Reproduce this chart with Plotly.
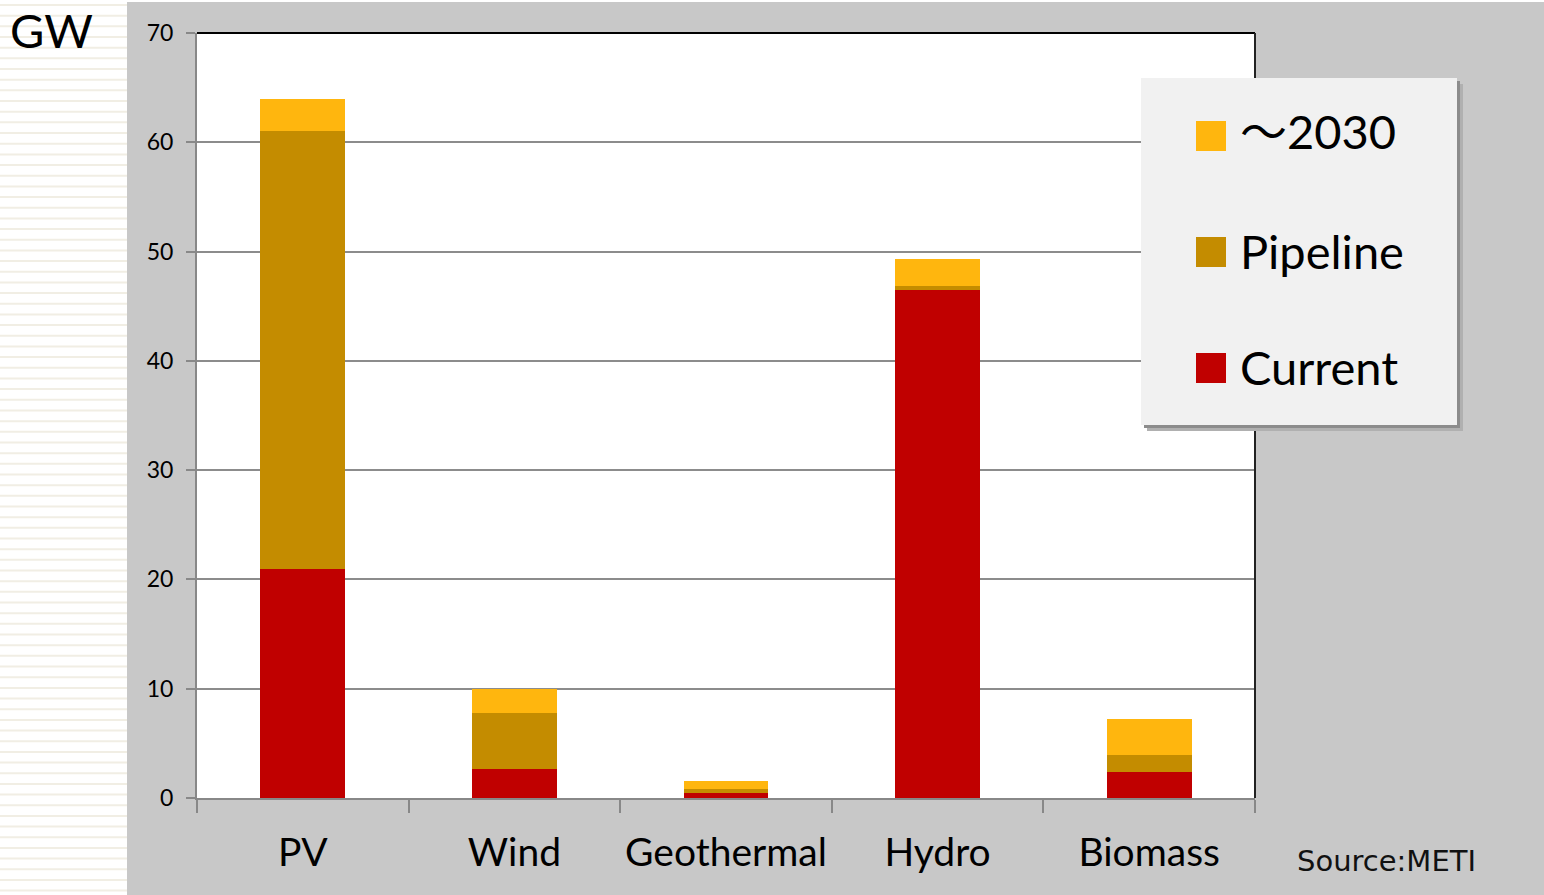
import plotly.graph_objects as go

categories = ["PV", "Wind", "Geothermal", "Hydro", "Biomass"]
current = [21.0, 2.65, 0.43, 46.5, 2.4]
pipeline = [40.0, 5.15, 0.42, 0.37, 1.5]
to2030 = [3.0, 2.2, 0.68, 2.43, 3.3]
series_names = ["Current", "Pipeline", "～2030"]
series_colors = ["#c00000", "#c48c00", "#ffb60e"]
y_ticks = [0, 10, 20, 30, 40, 50, 60, 70]

W, H = 1544, 895
L, R, T, B = 197, 1255, 33, 798


def px(x):
    return (x - L) / (R - L)


def py(y):
    return (B - y) / (B - T)


fig = go.Figure()
for name, vals, col in zip(series_names, [current, pipeline, to2030], series_colors):
    fig.add_trace(go.Bar(x=categories, y=vals, name=name, marker=dict(color=col, line=dict(width=0)),
                         showlegend=False))

shapes = []
# gray background region
shapes.append(dict(type="rect", xref="paper", yref="paper", x0=px(127), x1=px(W), y0=py(H), y1=py(2),
                   fillcolor="#c8c8c8", line=dict(width=0), layer="below"))
# white plot area
shapes.append(dict(type="rect", xref="paper", yref="paper", x0=0, x1=1, y0=0, y1=1,
                   fillcolor="#ffffff", line=dict(width=0), layer="below"))
# striped left strip
yy = 4.0
while yy < H:
    shapes.append(dict(type="rect", xref="paper", yref="paper", x0=px(0), x1=px(127), y0=py(yy + 2), y1=py(yy),
                       fillcolor="#f1eee4", line=dict(width=0), layer="below"))
    yy += 10.67
# top and right black border
shapes.append(dict(type="line", xref="paper", yref="paper", x0=0, x1=1, y0=1, y1=1,
                   line=dict(color="#000000", width=2), layer="above"))
shapes.append(dict(type="line", xref="paper", yref="paper", x0=1, x1=1, y0=0, y1=1,
                   line=dict(color="#222222", width=2), layer="above"))
# legend box with shadow
lx0, lx1, ly0, ly1 = 1141, 1457, 78, 425
shapes.append(dict(type="rect", xref="paper", yref="paper", x0=px(lx0 + 6), x1=px(lx1 + 6), y0=py(ly1 + 6), y1=py(ly0 + 6),
                   fillcolor="#b0b0b0", line=dict(width=0), layer="above"))
shapes.append(dict(type="rect", xref="paper", yref="paper", x0=px(lx0 + 3), x1=px(lx1 + 3), y0=py(ly1 + 3), y1=py(ly0 + 3),
                   fillcolor="#8c8c8c", line=dict(width=0), layer="above"))
shapes.append(dict(type="rect", xref="paper", yref="paper", x0=px(lx0), x1=px(lx1), y0=py(ly1), y1=py(ly0),
                   fillcolor="#f1f1f1", line=dict(width=0), layer="above"))

annotations = []
legend_rows = [(series_names[2], series_colors[2], 136, 128), (series_names[1], series_colors[1], 252, 251),
               (series_names[0], series_colors[0], 368, 367)]
for name, col, cy, ty in legend_rows:
    shapes.append(dict(type="rect", xref="paper", yref="paper", x0=px(1196), x1=px(1226), y0=py(cy + 15), y1=py(cy - 15),
                       fillcolor=col, line=dict(width=0), layer="above"))
    label = name.replace("～", '<span style="font-family:Noto Sans CJK JP">～</span>')
    annotations.append(dict(text=label, xref="paper", yref="paper", x=px(1238), y=py(ty), xanchor="left",
                            yanchor="middle", showarrow=False, font=dict(family="Lato", size=47, color="#000000")))

annotations.append(dict(text="GW", xref="paper", yref="paper", x=px(8), y=py(30), xanchor="left", yanchor="middle",
                        showarrow=False, font=dict(family="Lato", size=47, color="#000000")))
annotations.append(dict(text="Source:METI", xref="paper", yref="paper", x=px(1386), y=py(861), xanchor="center",
                        yanchor="middle", showarrow=False, font=dict(family="DejaVu Sans", size=29, color="#111111")))

fig.update_layout(
    width=W, height=H,
    margin=dict(l=L, r=W - R, t=T, b=H - B, pad=0, autoexpand=False),
    paper_bgcolor="#ffffff", plot_bgcolor="#ffffff",
    barmode="stack", bargap=0.6,
    shapes=shapes, annotations=annotations,
    showlegend=False,
    xaxis=dict(type="category", tickson="boundaries", ticks="outside", ticklen=13, tickwidth=2, tickangle=0,
               automargin=False,
               tickcolor="#888888", showline=True, linecolor="#888888", linewidth=2, showgrid=False,
               tickfont=dict(family="Lato", size=39, color="#000000"), ticklabelstandoff=19),
    yaxis=dict(range=[0, 70], tickvals=y_ticks, ticks="outside", ticklen=9, tickwidth=2, tickcolor="#888888",
               automargin=False,
               showline=True, linecolor="#888888", linewidth=2, gridcolor="#8c8c8c", gridwidth=1.5,
               tickfont=dict(family="Lato", size=23, color="#000000"), ticklabelstandoff=8, zeroline=False),
)

fig.write_html("out.html")
